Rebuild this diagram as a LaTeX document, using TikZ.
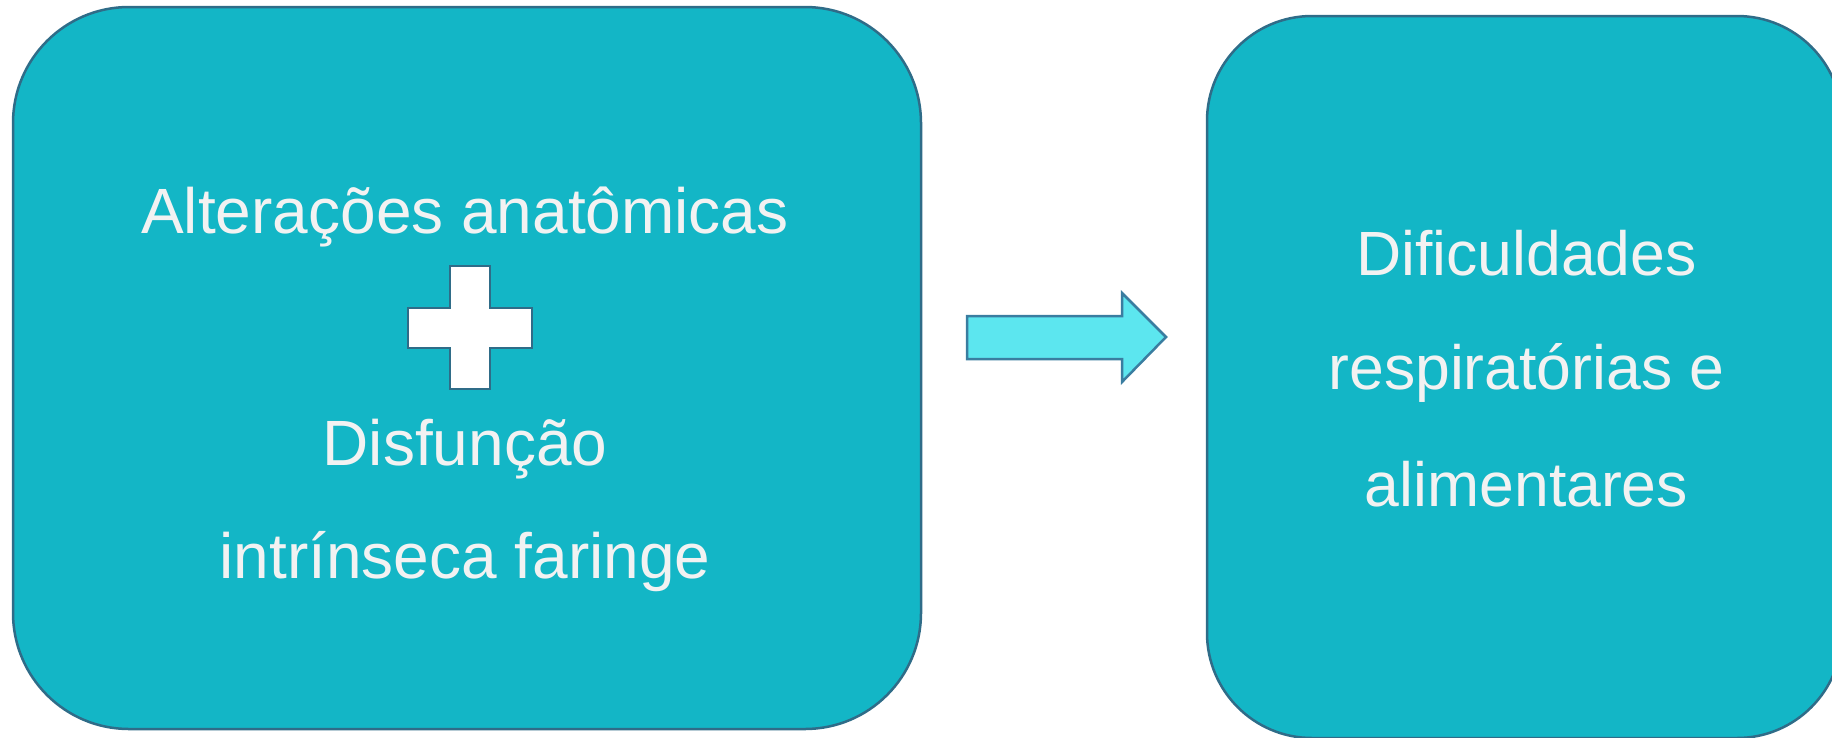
\documentclass[tikz,border=0pt]{standalone}
\usepackage{fontspec}
\setmainfont{Liberation Sans}
\definecolor{boxfill}{HTML}{13B6C6}
\definecolor{boxline}{HTML}{2F6C88}
\definecolor{arrowfill}{HTML}{5CE6EF}
\definecolor{arrowline}{HTML}{3A7DA0}
\definecolor{txt}{HTML}{F2F2F2}
\tikzset{
  bigbox/.style={draw=boxline, fill=boxfill, line width=2.5pt, rectangle, inner sep=0pt},
  lbl/.style={text=txt, font=\fontsize{62.5}{70}\selectfont, anchor=base, inner sep=0pt},
  lbll/.style={lbl, font=\fontsize{64}{72}\selectfont},
  plussign/.style={draw=boxline, fill=white, line width=2.5pt},
  fatarrow/.style={draw=arrowline, fill=arrowfill, line width=2.5pt, line join=miter}
}
\begin{document}
\begin{tikzpicture}[x=1pt,y=-1pt]
\useasboundingbox (0,0) rectangle (1832,737);
\begin{scope}
\clip (0,0) rectangle (1832,737);
\node[bigbox, minimum width=908pt, minimum height=722pt, rounded corners=116pt] (L) at (467,368) {};
\node[bigbox, minimum width=635pt, minimum height=722pt, rounded corners=105pt] (R) at (1524.5,377) {};
\end{scope}
% plus sign
\draw[plussign] (450,266) -- (490,266) -- (490,308) -- (532,308) -- (532,348) -- (490,348) -- (490,389) -- (450,389) -- (450,348) -- (408,348) -- (408,308) -- (450,308) -- cycle;
% arrow
\draw[fatarrow] (967,316) -- (1122,316) -- (1122,293) -- (1166,337) -- (1122,382) -- (1122,359) -- (967,359) -- cycle;
% left texts
\node[lbll] (l1) at (465,233) {Alterações anatômicas};
\node[lbll] (l2) at (465,465) {Disfunção};
\node[lbll] (l3) at (465,578) {intrínseca faringe};
% right texts
\node[lbl] (r1) at (1526.5,275) {Dificuldades};
\node[lbl] (r2) at (1526.5,389) {respiratórias e};
\node[lbl] (r3) at (1526.5,506) {alimentares};
\end{tikzpicture}
\end{document}
